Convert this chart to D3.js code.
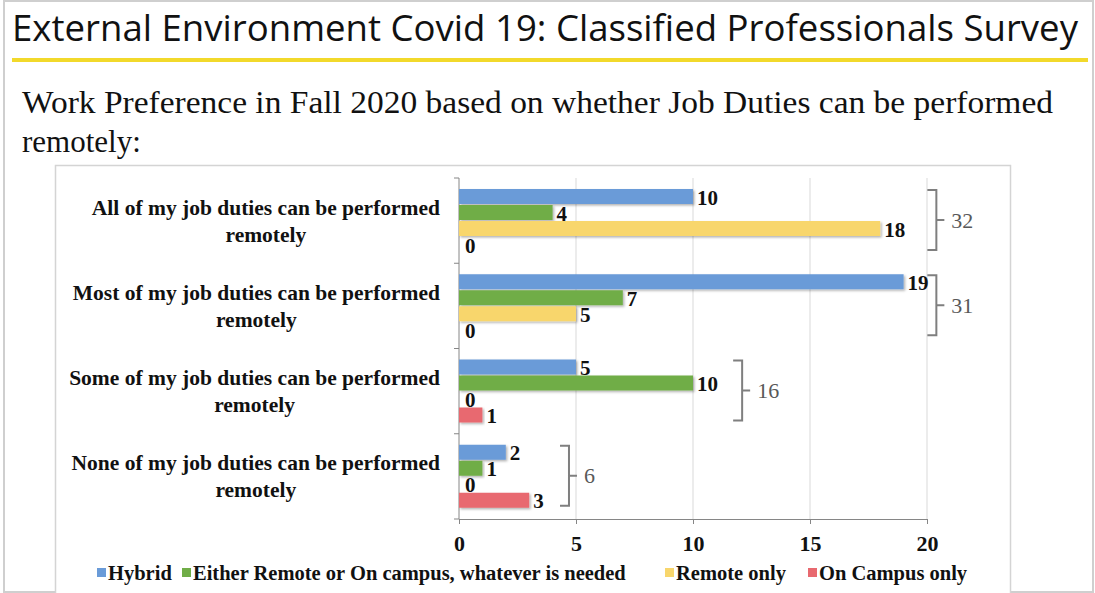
<!DOCTYPE html>
<html>
<head>
<meta charset="utf-8">
<script src="https://cdn.jsdelivr.net/npm/d3@7"></script>
<style>
  body { margin: 0; background: #fff; }
  svg { display: block; }
</style>
</head>
<body>
<div id="chart"></div>
<script>
const width = 1095;
const height = 593;

// data
const categories = [
	["All of my job duties can be performed", "remotely"],
	["Most of my job duties can be performed", "remotely"],
	["Some of my job duties can be performed", "remotely"],
	["None of my job duties can be performed", "remotely"]
];
const series = ["Hybrid", "Either Remote or On campus, whatever is needed", "Remote only", "On Campus only"];
const colors = ["#6a9bd8", "#70ad47", "#f8d66c", "#e8696f"];
const hybrid = [10, 19, 5, 2];
const either = [4, 7, 10, 1];
const remoteOnly = [18, 5, 0, 0];
const campusOnly = [0, 0, 1, 3];
const bracketAt = [20.4, 20.4, 12.1, 4.7]; // where the total brackets sit (axis units)
const xTicks = [0, 5, 10, 15, 20];

const values = [hybrid, either, remoteOnly, campusOnly];

const svg = d3
	.select("#chart")
	.append("svg")
	.attr("width", width)
	.attr("height", height);

// drop shadow for the bars
const defs = svg.append("defs");
defs.append("filter")
	.attr("id", "shadow")
	.attr("x", "-5%").attr("y", "-20%")
	.attr("width", "115%").attr("height", "160%")
	.append("feDropShadow")
	.attr("dx", 1.5).attr("dy", 1.5)
	.attr("stdDeviation", 1)
	.attr("flood-color", "#000")
	.attr("flood-opacity", 0.3);

// slide frame
svg.append("rect")
	.attr("x", 4).attr("y", 1)
	.attr("width", 1089).attr("height", 591)
	.attr("fill", "none")
	.attr("stroke", "#cfcfcf")
	.attr("stroke-width", 2);

// slide title
svg.append("text")
	.attr("x", 12).attr("y", 41)
	.attr("font-family", "'Open Sans', sans-serif")
	.attr("font-size", 37)
	.attr("fill", "#111")
	.attr("textLength", 1066)
	.attr("lengthAdjust", "spacingAndGlyphs")
	.text("External Environment Covid 19: Classified Professionals Survey");

svg.append("line")
	.attr("x1", 12).attr("x2", 1088)
	.attr("y1", 60).attr("y2", 60)
	.attr("stroke", "#f2d92b")
	.attr("stroke-width", 4);

// subtitle
svg.append("text")
	.attr("x", 22).attr("y", 113)
	.attr("font-family", "'Liberation Serif', 'Times New Roman', serif")
	.attr("font-size", 31)
	.attr("fill", "#111")
	.attr("textLength", 1031)
	.attr("lengthAdjust", "spacingAndGlyphs")
	.text("Work Preference in Fall 2020 based on whether Job Duties can be performed");
svg.append("text")
	.attr("x", 22).attr("y", 152)
	.attr("font-family", "'Liberation Serif', 'Times New Roman', serif")
	.attr("font-size", 31)
	.attr("fill", "#111")
	.text("remotely:");

// chart frame
svg.append("rect")
	.attr("x", 55.5).attr("y", 165.5)
	.attr("width", 955).attr("height", 440)
	.attr("fill", "#fff")
	.attr("stroke", "#d4d4d4")
	.attr("stroke-width", 1.5);

// scales
const x = d3.scaleLinear().domain([0, 20]).range([459, 927]);
const y = d3.scaleBand().domain(d3.range(categories.length)).range([178, 519]);
const ySub = d3.scaleBand().domain(d3.range(series.length)).range([11, 75]);

const serif = "'Liberation Serif', 'Times New Roman', serif";

// gridlines
svg.append("g")
	.selectAll("line")
	.data(xTicks.slice(1))
	.enter()
	.append("line")
	.attr("x1", d => x(d)).attr("x2", d => x(d))
	.attr("y1", 178).attr("y2", 519)
	.attr("stroke", "#d9d9d9");

// x axis
const xAxis = svg.append("g")
	.attr("transform", "translate(0,519)")
	.call(d3.axisBottom(x).tickValues(xTicks).tickSize(5).tickPadding(11));
xAxis.select(".domain").attr("stroke", "#868686");
xAxis.selectAll(".tick line").attr("stroke", "#868686");
xAxis.selectAll("text")
	.attr("font-family", serif)
	.attr("font-size", 22)
	.attr("font-weight", "bold")
	.attr("fill", "#111");

// y axis line with ticks at the band edges
svg.append("line")
	.attr("x1", 459).attr("x2", 459)
	.attr("y1", 178).attr("y2", 519)
	.attr("stroke", "#868686");
svg.append("g")
	.selectAll("line")
	.data(d3.range(categories.length + 1))
	.enter()
	.append("line")
	.attr("x1", 454).attr("x2", 459)
	.attr("y1", i => 178 + i * y.step())
	.attr("y2", i => 178 + i * y.step())
	.attr("stroke", "#868686");

// category labels (lines centred on each other, block right aligned)
categories.forEach((lines, i) => {
	const g = svg.append("g");
	const t1 = g.append("text")
		.attr("font-family", serif)
		.attr("font-size", 21.5)
		.attr("font-weight", "bold")
		.attr("fill", "#111")
		.attr("text-anchor", "middle")
		.attr("y", y(i) + y.bandwidth() / 2 - 6)
		.text(lines[0]);
	const w = t1.node().getComputedTextLength();
	const cx = 440 - w / 2;
	t1.attr("x", cx);
	g.append("text")
		.attr("font-family", serif)
		.attr("font-size", 21.5)
		.attr("font-weight", "bold")
		.attr("fill", "#111")
		.attr("text-anchor", "middle")
		.attr("x", cx)
		.attr("y", y(i) + y.bandwidth() / 2 + 21)
		.text(lines[1]);
});

// bars
const barData = [];
categories.forEach((c, i) => {
	series.forEach((s, j) => {
		barData.push({ cat: i, ser: j, value: values[j][i] });
	});
});

svg.append("g")
	.selectAll("rect")
	.data(barData.filter(d => d.value > 0))
	.enter()
	.append("rect")
	.attr("x", x(0))
	.attr("y", d => y(d.cat) + ySub(d.ser))
	.attr("width", d => x(d.value) - x(0))
	.attr("height", ySub.bandwidth() - 1)
	.attr("fill", d => colors[d.ser])
	.attr("filter", "url(#shadow)");

// value labels
svg.append("g")
	.selectAll("text")
	.data(barData)
	.enter()
	.append("text")
	.attr("x", d => x(d.value) + (d.value ? 4 : 6))
	.attr("y", d => y(d.cat) + ySub(d.ser) + ySub.bandwidth() / 2)
	.attr("dy", "0.36em")
	.attr("font-family", serif)
	.attr("font-size", 21)
	.attr("font-weight", "bold")
	.attr("fill", "#111")
	.text(d => d.value);

// total brackets
categories.forEach((c, i) => {
	const bx = x(bracketAt[i]);
	const top = y(i) + 12;
	const bottom = y(i) + 72;
	const mid = (top + bottom) / 2;
	svg.append("path")
		.attr("d", `M${bx - 9},${top} H${bx} V${bottom} H${bx - 9} M${bx},${mid} H${bx + 8}`)
		.attr("fill", "none")
		.attr("stroke", "#7f7f7f")
		.attr("stroke-width", 2);
	svg.append("text")
		.attr("x", bx + 15)
		.attr("y", mid)
		.attr("dy", "0.35em")
		.attr("font-family", serif)
		.attr("font-size", 22)
		.attr("fill", "#595959")
		.text(d3.sum(values, v => v[i]));
});

// legend
const legendX = [97, 182, 665, 808];
const legend = svg.append("g")
	.selectAll("g")
	.data(series)
	.enter()
	.append("g")
	.attr("transform", (d, i) => `translate(${legendX[i]},573)`);
legend.append("rect")
	.attr("x", 0).attr("y", -5)
	.attr("width", 9).attr("height", 9)
	.attr("fill", (d, i) => colors[i]);
legend.append("text")
	.attr("x", 11)
	.attr("y", 0)
	.attr("dy", "0.35em")
	.attr("font-family", serif)
	.attr("font-size", 20.5)
	.attr("font-weight", "bold")
	.attr("fill", "#111")
	.text(d => d);
</script>
</body>
</html>
